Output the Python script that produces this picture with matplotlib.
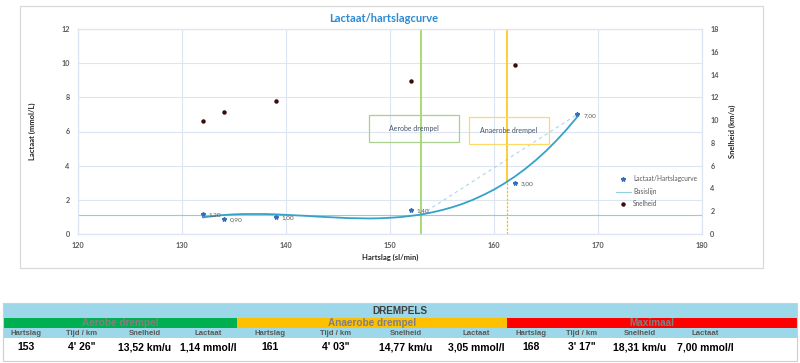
"""
plot.py — Lactaat/hartslagcurve with drempel table underneath.
"""

import sys

import matplotlib

matplotlib.use("Agg")
import matplotlib.pyplot as plt  # noqa: E402
from matplotlib.patches import Rectangle  # noqa: E402

# measured points
heart_rate = [132, 134, 139, 152, 162, 168]
lactate = [1.20, 0.90, 1.00, 1.40, 3.00, 7.00]
lactate_labels = ["1,20", "0,90", "1,00", "1,40", "3,00", "7,00"]
speed = [9.9, 10.7, 11.7, 13.4, 14.8, 18.31]

# trend curve (one point per beat)
curve_hr = list(range(132, 169))
curve_lac = [0.97, 1.05, 1.11, 1.15, 1.17, 1.17, 1.17, 1.15, 1.12, 1.09, 1.06, 1.02, 0.99,
             0.96, 0.93, 0.92, 0.91, 0.92, 0.95, 0.99, 1.06, 1.14, 1.26, 1.40, 1.57, 1.77,
             2.01, 2.29, 2.60, 2.96, 3.36, 3.81, 4.31, 4.86, 5.47, 6.13, 6.85]

baseline = 1.1
aerobe_hr, aerobe_lac = 153.0, 1.14
anaerobe_hr, anaerobe_lac = 161.25, 3.05
max_hr, max_lac = 168.0, 7.00

# table
zone_names = ["Aerobe drempel", "Anaerobe drempel", "Maximaal"]
col_names = ["Hartslag", "Tijd / km", "Snelheid", "Lactaat"]
aerobe_row = ["153", "4' 26\"", "13,52 km/u", "1,14 mmol/l"]
anaerobe_row = ["161", "4' 03\"", "14,77 km/u", "3,05 mmol/l"]
max_row = ["168", "3' 17\"", "18,31 km/u", "7,00 mmol/l"]

W, H = 800, 363
CHART_FONT = ["Lato", "DejaVu Sans"]
TABLE_FONT = ["Liberation Sans", "DejaVu Sans"]
GRID = "#DCE5F1"
TICK = "#595959"


def px_x(x):
    return x / W


def px_y(y):
    return 1 - y / H


def draw_chart(fig):
    left, right, top, bottom = 78, 702, 29, 234
    ax = fig.add_axes([px_x(left), px_y(bottom), (right - left) / W, (bottom - top) / H])
    ax2 = ax.twinx()

    ax.set_xlim(120, 180)
    ax.set_ylim(0, 12)
    ax2.set_ylim(0, 18)
    ax.set_xticks(range(120, 181, 10))
    ax.set_yticks(range(0, 13, 2))
    ax2.set_yticks(range(0, 19, 2))
    ax.grid(True, color=GRID, linewidth=0.8)
    ax.set_axisbelow(True)
    for a in (ax, ax2):
        for sp in a.spines.values():
            sp.set_color(GRID)
            sp.set_linewidth(0.8)
        a.tick_params(length=0, labelsize=5.2, colors=TICK)
        for lbl in a.get_xticklabels() + a.get_yticklabels():
            lbl.set_family(CHART_FONT)
            lbl.set_fontweight("bold")
    ax.tick_params(axis="y", pad=6)
    ax2.tick_params(axis="y", pad=6)
    ax.tick_params(axis="x", pad=6)

    lab_kw = dict(fontsize=5.5, fontweight="bold", color="#262626", family=CHART_FONT)
    ax.set_ylabel("Lactaat (mmol/L)", **lab_kw)
    ax.yaxis.set_label_coords(-0.067, 0.5)
    ax2.set_ylabel("Snelheid (km/u)", **lab_kw)
    ax2.yaxis.set_label_coords(1.043, 0.5)
    ax.set_xlabel("Hartslag (sl/min)", **lab_kw)
    ax.xaxis.set_label_coords(0.5, -0.098)

    base, = ax.plot([120, 180], [baseline, baseline], color="#8ECFE3", linewidth=0.8, label="Basislijn")
    ax.plot(curve_hr, curve_lac, color="#35A2CB", linewidth=1.3, solid_capstyle="round",
            solid_joinstyle="round", zorder=3)
    ax.plot([aerobe_hr, max_hr], [aerobe_lac, max_lac], color="#A9D8EA", linewidth=0.8,
            linestyle=(0, (3, 3)), zorder=2)

    ax.plot([aerobe_hr, aerobe_hr], [0, 12], color="#92D050", linewidth=1.1, zorder=2)
    ax.plot([anaerobe_hr, anaerobe_hr], [anaerobe_lac, 12], color="#FFC000", linewidth=1.1, zorder=2)
    ax.plot([anaerobe_hr, anaerobe_hr], [0, anaerobe_lac], color="#FFC000", linewidth=0.9,
            linestyle=(0, (2, 1)), zorder=2)

    lac, = ax.plot(heart_rate, lactate, linestyle="none", marker="*", markersize=3.2,
                   color="#3370B8", label="Lactaat/Hartslagcurve", zorder=4)
    for x, y, t in zip(heart_rate, lactate, lactate_labels):
        ax.annotate(t, (x, y), xytext=(6, -1), textcoords="offset pixels", fontsize=4.6,
                    color="#595959", va="center", ha="left", family=CHART_FONT)

    spd, = ax2.plot(heart_rate, speed, linestyle="none", marker="o", markersize=2.2,
                    color="#3A0C0C", label="Snelheid", zorder=4)

    box_kw = dict(fill=False, linewidth=0.9, zorder=5)
    ax.add_patch(Rectangle((148.0, 5.39), 8.6, 1.58, edgecolor="#A9D18E", **box_kw))
    ax.text(152.3, 6.18, "Aerobe drempel", fontsize=5, color="#44546A", ha="center", va="center",
            family=CHART_FONT, zorder=6)
    ax.add_patch(Rectangle((157.6, 5.27), 7.7, 1.58, edgecolor="#FFD966", **box_kw))
    ax.text(161.45, 6.06, "Anaerobe drempel", fontsize=5, color="#44546A", ha="center", va="center",
            family=CHART_FONT, zorder=6)

    leg = fig.legend(handles=[lac, base, spd], loc="upper left",
                     bbox_to_anchor=(px_x(613), px_y(172)), frameon=False, fontsize=4.7,
                     handlelength=2.2, handletextpad=0.4, labelspacing=0.85, borderpad=0)
    for t in leg.get_texts():
        t.set_color("#595959")
        t.set_family(CHART_FONT)

    fig.text(px_x(384), px_y(18), "Lactaat/hartslagcurve", fontsize=8, fontweight="bold",
             color="#2A8AD4", ha="center", va="center", family=CHART_FONT)


def draw_table(fig):
    ov = fig.add_axes([0, 0, 1, 1])
    ov.set_xlim(0, W)
    ov.set_ylim(H, 0)
    ov.axis("off")
    ov.patch.set_visible(False)

    # chart frame
    ov.add_patch(Rectangle((20, 6), 743, 262, fill=False, edgecolor="#D9D9D9", linewidth=0.9))

    x0, x1 = 3, 797
    light = "#9DD8EA"
    ov.add_patch(Rectangle((x0, 303), x1 - x0, 15, facecolor=light, edgecolor="none"))
    ov.add_patch(Rectangle((x0, 328), x1 - x0, 10, facecolor=light, edgecolor="none"))
    zones = [(3, 237, "#00B050"), (237, 507, "#FFC000"), (507, 797, "#FF0000")]
    for (a, b, c), name in zip(zones, zone_names):
        ov.add_patch(Rectangle((a, 318), b - a, 10, facecolor=c, edgecolor="none"))
        ov.text((a + b) / 2, 323.3, name, fontsize=7.2, fontweight="bold", color="#808080",
                ha="center", va="center", family=TABLE_FONT)
    ov.add_patch(Rectangle((x0, 303), x1 - x0, 58, fill=False, edgecolor="#CFCFCF", linewidth=0.8))

    ov.text(400, 310.8, "DREMPELS", fontsize=7.2, fontweight="bold", color="#404040",
            ha="center", va="center", family=TABLE_FONT)

    col_x = [[26, 82, 145, 208], [270, 336, 406, 476], [531, 582, 640, 705]]
    rows = [aerobe_row, anaerobe_row, max_row]
    for xs, row in zip(col_x, rows):
        for x, name, val in zip(xs, col_names, row):
            ov.text(x, 333.3, name, fontsize=5.6, fontweight="bold", color="#595959",
                    ha="center", va="center", family=TABLE_FONT)
            ov.text(x, 347.5, val, fontsize=7.5, fontweight="bold", color="black",
                    ha="center", va="center", family=TABLE_FONT)


def main() -> int:
    fig = plt.figure(figsize=(W / 100, H / 100), dpi=100)
    draw_chart(fig)
    draw_table(fig)
    fig.savefig("out.png", dpi=100, facecolor="white")
    plt.close(fig)
    return 0


if __name__ == "__main__":
    sys.exit(main())
